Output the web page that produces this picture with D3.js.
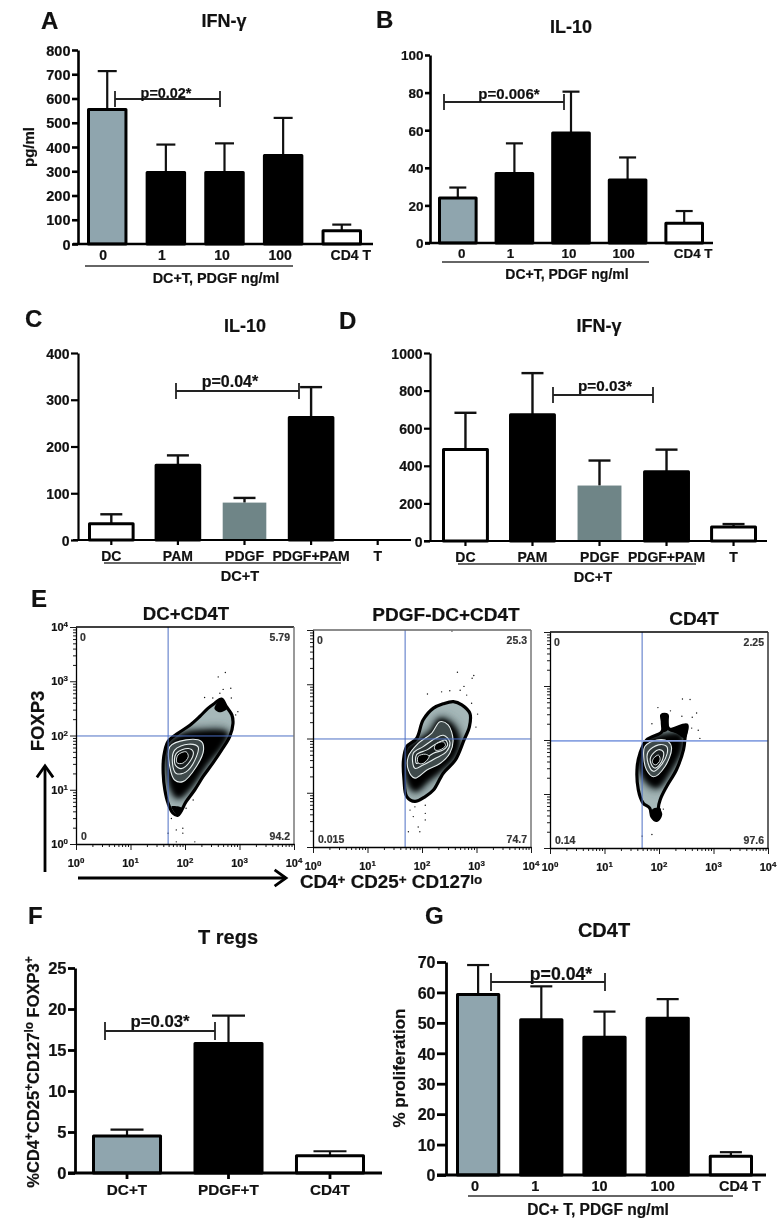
<!DOCTYPE html>
<html><head><meta charset="utf-8">
<script src="https://cdn.jsdelivr.net/npm/d3@7/dist/d3.min.js"></script>
<style>
html,body{margin:0;padding:0;background:#fff}
svg{display:block;filter:blur(.3px)}
text{font-family:"Liberation Sans",Arial,sans-serif;font-weight:bold;fill:#111;stroke:#111;stroke-width:.2px}
</style></head><body>
<script>
// ---------- bar panel data ----------
const catsA=['0','1','10','100','CD4 T'];
const valsA=[555,295,295,365,55];
const errA=[713,410,415,520,80];
const catsB=['0','1','10','100','CD4 T'];
const valsB=[24,37,58.5,33.5,10.5];
const errB=[29.5,53,80.5,45.5,17];
const catsC=['DC','PAM','PDGF','PDGF+PAM','T'];
const valsC=[35,160,80,262,0];
const errC=[55,181,90,327,0];
const catsD=['DC','PAM','PDGF','PDGF+PAM','T'];
const valsD=[487,672,295,368,75];
const errD=[682,893,428,486,90];
const catsF=['DC+T','PDGF+T','CD4T'];
const valsF=[4.5,15.8,2.1];
const errF=[5.3,19.2,2.65];
const catsG=['0','1','10','100','CD4 T'];
const valsG=[59.3,51,45.3,51.5,6.2];
const errG=[69,62,53.7,57.8,7.5];
const ticksA=[0,100,200,300,400,500,600,700,800];
const ticksB=[0,20,40,60,80,100];
const ticksC=[0,100,200,300,400];
const ticksD=[0,200,400,600,800,1000];
const ticksF=[0,5,10,15,20,25];
const ticksG=[0,10,20,30,40,50,60,70];

// ---------- flow panel data (log10 CD4/CD25/CD127 gate, log10 FOXP3) ----------
const flowTitles=['DC+CD4T','PDGF-DC+CD4T','CD4T'];
const quadLabels=[['0','5.79','0','94.2'],['0','25.3','0.015','74.7'],['0','2.25','0.14','97.6']];
const decades=[0,1,2,3,4];
const quadGateX=[49,49,49];
const quadGateY=[98,98,96];
const outline1=[[2.67,2.67],[2.76,2.53],[2.86,2.38],[2.88,2.22],[2.82,1.98],[2.67,1.73],[2.51,1.49],[2.33,1.24],[2.18,1.00],[2.02,.78],[1.87,.53],[1.78,.57],[1.69,.75],[1.63,1.00],[1.60,1.30],[1.61,1.61],[1.69,1.89],[1.87,2.04],[2.09,2.19],[2.27,2.35],[2.42,2.50],[2.54,2.59]];
const dark1=[[1.69,1.79],[1.96,2.01],[2.39,2.07],[2.76,2.04],[2.64,1.79],[2.39,1.49],[2.09,1.06],[1.87,.87],[1.75,1.06],[1.69,1.43]];
const rings1=[
 [[1.72,1.79],[2.02,1.92],[2.30,1.89],[2.34,1.73],[2.21,1.43],[1.96,1.15],[1.81,1.18],[1.72,1.43]],
 [[1.81,1.73],[2.06,1.84],[2.24,1.79],[2.21,1.61],[2.02,1.33],[1.84,1.30],[1.77,1.49]],
 [[1.84,1.67],[2.06,1.76],[2.15,1.70],[2.09,1.52],[1.93,1.39],[1.82,1.46]],
 [[1.87,1.64],[2.02,1.70],[2.06,1.61],[1.96,1.49],[1.85,1.50]]];
const blobs1=[[[2.54,2.50],[2.67,2.67],[2.77,2.50],[2.64,2.43]],[[1.75,.69],[1.87,.53],[1.95,.66]]];
const dots1=[[2.74,3.16],[2.61,3.08],[2.70,2.85],[2.84,2.87],[2.64,2.78],[2.36,2.70],[2.51,2.69],[2.85,2.69],[2.97,2.44],[2.93,2.38],[2.15,.81],[2.02,.66],[1.75,.47],[1.84,.26],[1.96,.29],[1.96,.20],[1.84,.04],[2.18,.04],[1.69,.20]];
const outline2=[[2.575,2.68],[2.73,2.62],[2.88,2.46],[2.87,2.22],[2.77,1.97],[2.61,1.60],[2.39,1.36],[2.21,1.05],[2.06,.93],[1.87,.84],[1.72,.93],[1.67,1.24],[1.66,1.60],[1.72,1.85],[1.90,2.00],[2.02,2.34],[2.21,2.56],[2.39,2.64]];
const dark2=[[1.72,1.79],[1.93,1.94],[2.18,2.12],[2.33,2.34],[2.54,2.25],[2.67,1.97],[2.58,1.67],[2.33,1.42],[2.09,1.23],[1.87,1.05],[1.75,1.23]];
const rings2=[
 [[1.75,1.67],[1.93,1.91],[2.18,2.10],[2.33,2.31],[2.48,2.25],[2.57,1.97],[2.51,1.73],[2.33,1.54],[2.09,1.42],[1.87,1.27],[1.75,1.42]],
 [[1.84,1.73],[2.02,1.85],[2.24,2.00],[2.39,2.06],[2.51,1.94],[2.45,1.76],[2.24,1.63],[2.02,1.51],[1.87,1.45]],
 [[1.90,1.70],[2.09,1.79],[2.27,1.91],[2.43,1.97],[2.47,1.88],[2.39,1.79],[2.21,1.73],[2.02,1.60],[1.90,1.54]],
 [[1.93,1.67],[2.06,1.71],[2.13,1.67],[2.02,1.54],[1.93,1.55]],
 [[2.24,1.88],[2.39,1.94],[2.43,1.87],[2.33,1.79],[2.24,1.79]]];
const blobs2=[];
const dots2=[[2.65,3.22],[2.95,3.16],[2.92,3.11],[2.10,2.82],[2.36,2.86],[2.51,2.88],[2.70,2.89],[2.77,2.96],[2.82,2.80],[2.91,2.65],[3.02,2.45],[2.99,2.21],[1.87,.74],[1.78,.68],[2.06,.77],[2.06,.62],[1.84,.56],[2.06,.50],[1.93,.37],[1.75,.28],[1.96,.28],[2.55,3.98]];
const outline3=[[2.05,2.46],[2.15,2.46],[2.14,2.31],[2.19,2.20],[2.51,2.28],[2.48,2.06],[2.45,1.82],[2.32,1.45],[2.14,1.14],[2.02,.89],[1.99,.74],[2.03,.62],[1.96,.51],[1.87,.58],[1.83,.74],[1.71,.83],[1.62,1.08],[1.60,1.51],[1.65,1.75],[1.77,2.00],[2.05,2.15],[2.08,2.28]];
const dark3=[[1.71,1.94],[2.02,2.06],[2.39,2.09],[2.39,1.82],[2.20,1.45],[1.96,1.14],[1.77,1.26],[1.65,1.57]];
const rings3=[
 [[1.74,1.88],[1.96,2.00],[2.17,1.97],[2.23,1.85],[2.11,1.51],[1.90,1.32],[1.77,1.45],[1.72,1.69]],
 [[1.80,1.78],[1.99,1.91],[2.14,1.88],[2.15,1.75],[2.02,1.51],[1.90,1.42],[1.80,1.57]],
 [[1.85,1.69],[1.99,1.82],[2.08,1.78],[2.05,1.60],[1.93,1.48],[1.85,1.57]],
 [[1.90,1.66],[1.99,1.72],[2.02,1.63],[1.94,1.54],[1.88,1.58]]];
const blobs3=[[[1.87,.71],[2.02,.74],[2.03,.58],[1.96,.51],[1.87,.58]],[[2.05,2.46],[2.15,2.46],[2.16,2.18],[2.07,2.15]],[[2.19,2.17],[2.51,2.28],[2.48,2.03],[2.32,2.12]]];
const dots3=[[2.43,2.76],[2.57,2.75],[1.98,2.60],[2.21,2.54],[2.42,2.44],[2.69,2.50],[2.61,2.42],[1.87,2.30],[2.60,2.22],[2.72,2.18],[2.75,2.03],[2.08,.72],[1.87,.25],[1.69,.22]];

// ---------- page ----------
const W=778,H=1219;
const svg=d3.select('body').append('svg').attr('width',W).attr('height',H).attr('viewBox',[0,0,W,H]);
const defs=svg.append('defs');
function blur(id,sd){
  defs.append('filter').attr('id',id).attr('x','-50%').attr('y','-50%').attr('width','200%').attr('height','200%')
    .append('feGaussianBlur').attr('stdDeviation',sd);
}
blur('softWide',5); blur('softTight',2.4); blur('shadow',1.4);

function label(x,y,str,size,anchor='middle',rot=null,raise=.36){
  const t=svg.append('text').attr('font-size',size).attr('text-anchor',anchor);
  if(rot===null) t.attr('x',x).attr('y',y); else t.attr('transform',`translate(${x},${y}) rotate(${rot})`);
  if(Array.isArray(str)){
    let up=false;
    str.forEach(s=>{
      const sup=s[0]==='^',txt=sup?s.slice(1):s;
      t.append('tspan').attr('font-size',sup?size*.72:size)
        .attr('dy',sup&&!up?-size*raise:(!sup&&up?size*raise:0)).text(txt);
      up=sup;
    });
  } else t.text(str);
  return t;
}

function barPanel(p){
  const g=svg.append('g');
  const y=d3.scaleLinear().domain([0,p.ticks[p.ticks.length-1]]).range([p.y0,p.y1]);
  const x=d3.scaleBand().domain(p.cats).range([p.bx0,p.bx1]).paddingInner(p.pad).paddingOuter(0);
  const bw=x.bandwidth(),sw=p.sw;
  const e=g.append('g').attr('stroke','#111').attr('stroke-width',p.esw);
  p.cats.forEach((c,i)=>{
    if(p.vals[i]<=0) return;
    const cx=x(c)+bw/2;
    e.append('line').attr('x1',cx).attr('x2',cx).attr('y1',y(p.vals[i])).attr('y2',y(p.err[i]));
    e.append('line').attr('x1',cx-p.cap/2).attr('x2',cx+p.cap/2).attr('y1',y(p.err[i])).attr('y2',y(p.err[i]));
  });
  g.append('g').selectAll('rect').data(p.cats.map((c,i)=>({c,v:p.vals[i],f:p.fills[i]})).filter(d=>d.v>0)).join('rect')
    .attr('x',d=>x(d.c)+sw/2).attr('width',bw-sw)
    .attr('y',d=>y(d.v)).attr('height',d=>Math.max(0,y(0)-y(d.v)))
    .attr('fill',d=>d.f)
    .attr('stroke',d=>d.f==='#6f8587'?'none':'#000').attr('stroke-width',sw).attr('stroke-linejoin','round');
  const ay=g.append('g').attr('transform',`translate(${p.ax},0)`)
    .call(d3.axisLeft(y).tickValues(p.ticks).tickSize(p.tl).tickSizeOuter(0).tickFormat(d3.format('d')));
  ay.selectAll('path,line').attr('stroke','#000').attr('stroke-width',p.asw);
  ay.selectAll('text').attr('font-size',p.yfs).attr('dy','.36em').attr('x',-p.tl-1.5);
  const ax=g.append('g').attr('transform',`translate(0,${p.y0})`)
    .call(d3.axisBottom(x).tickSize(p.xt).tickSizeOuter(0).tickPadding(3));
  ax.select('.domain').remove();
  ax.selectAll('line').attr('stroke','#000').attr('stroke-width',p.asw);
  ax.selectAll('text').remove();
  g.append('line').attr('x1',p.xa0).attr('x2',p.xa1).attr('y1',p.y0).attr('y2',p.y0).attr('stroke','#000').attr('stroke-width',p.asw);
  p.cats.forEach((c,i)=>label(x(c)+bw/2+p.ldx[i],p.lb,c,p.xfs));
  if(p.gl){
    g.append('line').attr('x1',p.gl[0]).attr('x2',p.gl[1]).attr('y1',p.gl[2]).attr('y2',p.gl[2]).attr('stroke','#333').attr('stroke-width',1.3);
    label(p.gt[0],p.gt[1],p.gtxt,p.gt[2]);
  }
  const b=p.br,bg=g.append('g').attr('stroke','#222').attr('stroke-width',1.8);
  bg.append('line').attr('x1',b[0]).attr('x2',b[1]).attr('y1',b[2]).attr('y2',b[2]);
  [b[0],b[1]].forEach(v=>bg.append('line').attr('x1',v).attr('x2',v).attr('y1',b[2]-b[3]).attr('y2',b[2]+b[3]));
  label(p.pt[0],p.pt[1],p.pval,p.pt[2]);
  label(p.title[0],p.title[1],p.ttxt,p.title[2]);
  label(p.letter[0],p.letter[1],p.ltr,24,'start');
}
const GR='#8fa5ae',BK='#000',WH='#fff',GD='#6f8587';
barPanel({cats:catsA,vals:valsA,err:errA,ticks:ticksA,fills:[GR,BK,BK,BK,WH],y0:244,y1:50,ax:78,tl:6,asw:2.6,yfs:14.5,
  bx0:87,bx1:362,pad:.31,sw:3,esw:2.2,cap:19,xt:0,xa0:73,xa1:373,lb:260,xfs:14,ldx:[-4,-4,-2.5,-3,9],
  gl:[85,293,266],gt:[216,283,14.4],gtxt:'DC+T, PDGF ng/ml',br:[115,220,99,8],pt:[166,98,14.4],pval:'p=0.02*',
  title:[224,27,18],ttxt:'IFN-γ',letter:[41,29],ltr:'A'});
label(34,147,'pg/ml',15,'middle',-90);
barPanel({cats:catsB,vals:valsB,err:errB,ticks:ticksB,fills:[GR,BK,BK,BK,WH],y0:243,y1:55,ax:430,tl:5,asw:2.6,yfs:13.5,
  bx0:438,bx1:704,pad:.3,sw:3,esw:2.2,cap:17,xt:0,xa0:425,xa1:713,lb:258,xfs:13.4,ldx:[4,-4,-2,-4,9],
  gl:[442,649,262],gt:[567,279,14],gtxt:'DC+T, PDGF ng/ml',br:[444,564,102,8],pt:[509,99,15],pval:'p=0.006*',
  title:[571,33,18],ttxt:'IL-10',letter:[376,28],ltr:'B'});
barPanel({cats:catsC,vals:valsC,err:errC,ticks:ticksC,fills:[WH,BK,GD,BK,WH],y0:540,y1:353,ax:78,tl:7,asw:2.2,yfs:14,
  bx0:88,bx1:401,pad:.3,sw:3,esw:2.4,cap:22,xt:5,xa0:73,xa1:411,lb:561,xfs:14,ldx:[0,0,0,0,0],
  gl:[104,341,563],gt:[240,581,14.6],gtxt:'DC+T',br:[176,299,391,8],pt:[230,387,16],pval:'p=0.04*',
  title:[245,332,18],ttxt:'IL-10',letter:[25,327],ltr:'C'});
barPanel({cats:catsD,vals:valsD,err:errD,ticks:ticksD,fills:[WH,BK,GD,BK,WH],y0:541,y1:353,ax:430,tl:6,asw:2.2,yfs:14,
  bx0:442,bx1:757,pad:.3,sw:3,esw:2.4,cap:22,xt:5,xa0:424,xa1:767,lb:562,xfs:14,ldx:[0,0,0,0,0],
  gl:[458,696,564],gt:[593,582,14.6],gtxt:'DC+T',br:[553,653,395,8],pt:[605,391,15.3],pval:'p=0.03*',
  title:[599,332,18],ttxt:'IFN-γ',letter:[339,329],ltr:'D'});
barPanel({cats:catsF,vals:valsF,err:errF,ticks:ticksF,fills:[GR,BK,WH],y0:1173,y1:968,ax:75,tl:7,asw:2.8,yfs:16.5,
  bx0:92,bx1:365,pad:.31,sw:3,esw:2.2,cap:33,xt:6,xa0:68,xa1:382,lb:1195,xfs:15.3,ldx:[0,0,0],
  br:[105,215,1031,9],pt:[160,1027,16.8],pval:'p=0.03*',
  title:[228,944,20],ttxt:'T regs',letter:[28,924],ltr:'F'});
label(39,1072,['%CD4','^+','CD25','^+','CD127','^lo',' FOXP3','^+'],16.5,'middle',-90);
barPanel({cats:catsG,vals:valsG,err:errG,ticks:ticksG,fills:[GR,BK,BK,BK,WH],y0:1175,y1:962,ax:446,tl:9,asw:2.8,yfs:16,
  bx0:456,bx1:753,pad:.3,sw:3,esw:2.2,cap:22,xt:0,xa0:437,xa1:766,lb:1191,xfs:14.5,ldx:[-3,-6,-5,-5,9],
  gl:[468,733,1196],gt:[598,1215,15.6],gtxt:'DC+ T, PDGF ng/ml',br:[491,605,982,9],pt:[561,980,17.7],pval:'p=0.04*',
  title:[604,937,20],ttxt:'CD4T',letter:[425,924],ltr:'G'});
label(405,1068,'% proliferation',17,'middle',-90);

// ---------- flow panels ----------
label(44,721,'FOXP3',18.5,'middle',-90);
label(300,888,['CD4','^+',' CD25','^+',' CD127','^lo'],18.8,'start',null,.2);
label(31,607,'E',24,'start');

function flowPanel(p){
  const x=d3.scaleLog().domain([1,1e4]).range([p.l,p.r]);
  const y=d3.scaleLog().domain([1,1e4]).range([p.b,p.t]);
  const line=d3.line().x(d=>x(10**d[0])).y(d=>y(10**d[1])).curve(d3.curveCatmullRomClosed.alpha(.5));
  const g=svg.append('g');
  const cid='clip'+p.i;
  defs.append('clipPath').attr('id',cid).append('path').attr('d',line(p.outline));
  g.append('path').attr('d',line(p.outline)).attr('fill','#a6b8b9');
  const inner=g.append('g').attr('clip-path',`url(#${cid})`);
  inner.append('path').attr('d',line(p.dark)).attr('fill','#3b4a4c').attr('stroke','#3b4a4c').attr('stroke-width',7).attr('filter','url(#softWide)');
  inner.append('path').attr('d',line(p.dark)).attr('fill','#000').attr('stroke','#000').attr('stroke-width',2).attr('filter','url(#softTight)');
  p.blobs.forEach(b=>g.append('path').attr('d',line(b)).attr('fill','#000'));
  g.append('path').attr('d',line(p.outline)).attr('fill','none').attr('stroke','#000').attr('stroke-width',3.2).attr('stroke-linejoin','round');
  const fills=['#3f4a4b','#2c3435','#1a1f20','#000','#000'];
  p.rings.forEach((r,i)=>g.append('path').attr('d',line(r)).attr('fill',fills[i]).attr('stroke','#e6eeee').attr('stroke-width',i<3?1.1:.9));
  g.selectAll('circle.d').data(p.dots).join('circle').attr('class','d')
    .attr('cx',d=>x(10**d[0])).attr('cy',d=>y(10**d[1])).attr('r',.7).attr('fill','#111');
  g.append('line').attr('x1',x(p.qx)).attr('x2',x(p.qx)).attr('y1',p.t).attr('y2',p.b).attr('stroke','#4d70c4').attr('stroke-width',1);
  g.append('line').attr('x1',p.l).attr('x2',p.r).attr('y1',y(p.qy)).attr('y2',y(p.qy)).attr('stroke',p.i===2?'#8aa3e2':'#4d70c4').attr('stroke-width',p.i===2?1.8:1);
  g.append('line').attr('x1',p.l).attr('x2',p.r).attr('y1',p.t).attr('y2',p.t).attr('stroke',p.i===1?'#666':'#000').attr('stroke-width',1.3);
  g.append('line').attr('x1',p.r).attr('x2',p.r).attr('y1',p.t).attr('y2',p.b).attr('stroke',p.i===2?'#333':'#777').attr('stroke-width',1.5);
  const ticksize=d=>Number.isInteger(Math.round(Math.log10(d)*1e6)/1e6)?6:3;
  const ab=g.append('g').attr('transform',`translate(0,${p.b})`)
    .call(d3.axisBottom(x).tickValues(x.ticks()).tickSizeOuter(0).tickFormat(''));
  ab.selectAll('.tick line').attr('y2',ticksize);
  const al=g.append('g').attr('transform',`translate(${p.l},0)`)
    .call(d3.axisLeft(y).tickValues(y.ticks()).tickSizeOuter(0).tickFormat(''));
  al.selectAll('.tick line').attr('x2',d=>-ticksize(d));
  [ab,al].forEach(a=>{a.selectAll('path,line').attr('stroke','#000').attr('stroke-width',.9);a.select('.domain').attr('stroke-width',1.3);});
  decades.forEach(e=>{
    label(x(10**e),p.b+23,['10','^'+e],11);
    if(p.i===0) label(p.l-8,y(10**e)+4,['10','^'+e],11,'end');
  });
  const q=p.q;
  [[p.l+4,p.t+14,q[0],'start'],[p.r-4,p.t+14,q[1],'end'],[p.l+5,p.b-4,q[2],'start'],[p.r-4,p.b-4,q[3],'end']]
    .forEach(a=>label(a[0],a[1],a[2],10.5,a[3]).style('fill','#333').style('stroke','#333'));
  label(p.tt[0],p.tt[1],flowTitles[p.i],p.tt[2]);
}
flowPanel({i:0,l:76,r:294,t:627,b:844,outline:outline1,dark:dark1,rings:rings1,blobs:blobs1,dots:dots1,qx:quadGateX[0],qy:quadGateY[0],q:quadLabels[0],tt:[186,620,18.6]});
flowPanel({i:1,l:313,r:531,t:630,b:847,outline:outline2,dark:dark2,rings:rings2,blobs:blobs2,dots:dots2,qx:quadGateX[1],qy:quadGateY[1],q:quadLabels[1],tt:[446,621,19]});
flowPanel({i:2,l:550,r:768,t:632,b:848,outline:outline3,dark:dark3,rings:rings3,blobs:blobs3,dots:dots3,qx:quadGateX[2],qy:quadGateY[2],q:quadLabels[2],tt:[694,625,19]});

function arrow(x1,y1,x2,y2,dx,dy){
  svg.append('line').attr('x1',x1+dx).attr('y1',y1+dy).attr('x2',x2+dx).attr('y2',y2+dy).attr('stroke','#999').attr('stroke-width',3.5).attr('filter','url(#shadow)');
  svg.append('line').attr('x1',x1).attr('y1',y1).attr('x2',x2).attr('y2',y2).attr('stroke','#000').attr('stroke-width',2.8);
  const ang=Math.atan2(y2-y1,x2-x1),L=14,a=.62;
  const pts=[[x2-L*Math.cos(ang-a),y2-L*Math.sin(ang-a)],[x2,y2],[x2-L*Math.cos(ang+a),y2-L*Math.sin(ang+a)]];
  svg.append('path').attr('d',d3.line()(pts)).attr('fill','none').attr('stroke','#000').attr('stroke-width',2.8);
}
arrow(45,872,45,766,0,1);
arrow(78,878,286,878,0,3);
</script>
</body></html>
